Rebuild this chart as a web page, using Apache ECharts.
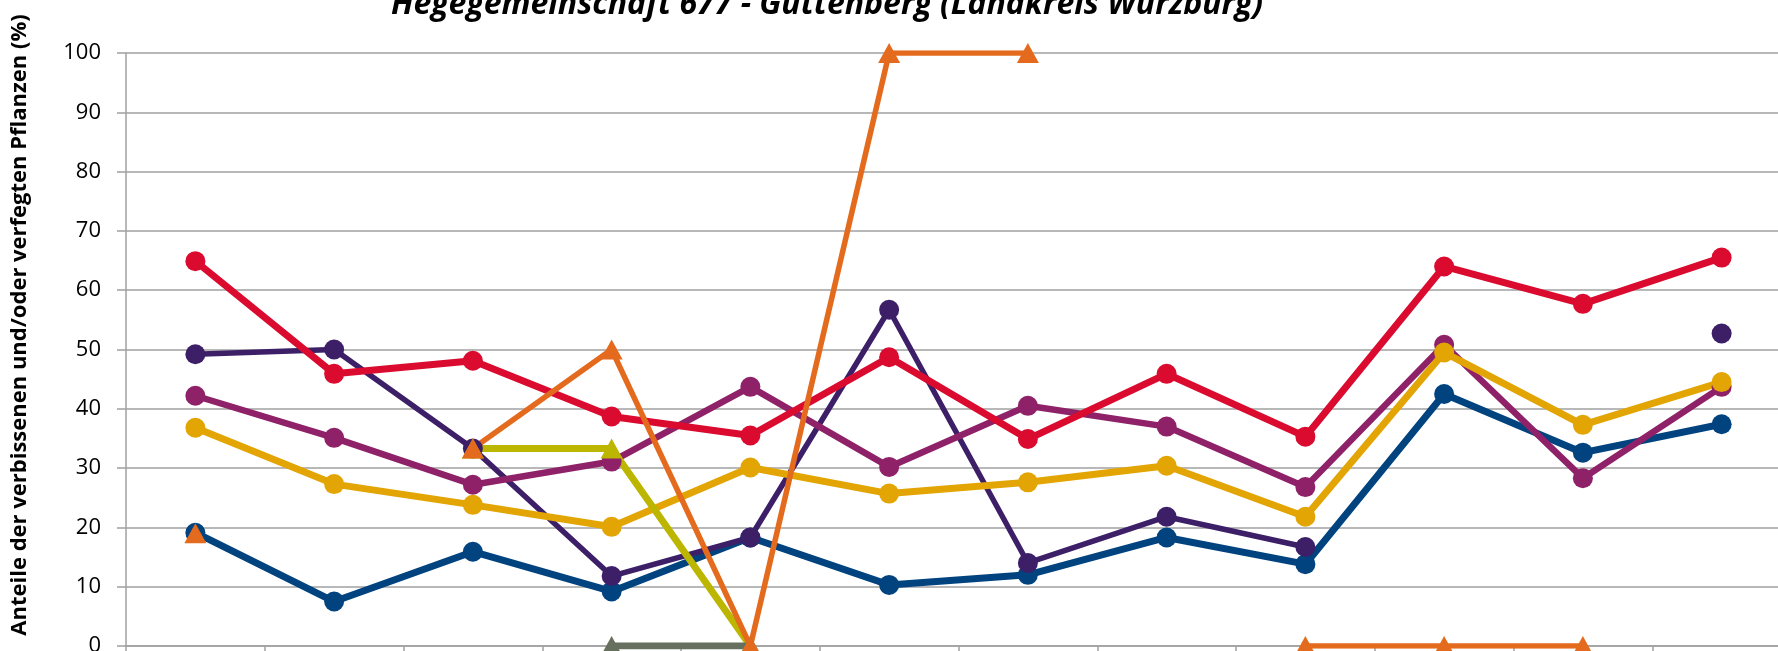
<!DOCTYPE html>
<html>
<head>
<meta charset="utf-8">
<script src="https://cdn.jsdelivr.net/npm/echarts@6/dist/echarts.min.js"></script>
<style>
html,body{margin:0;padding:0;background:#fff;}
#chart{width:1778px;height:651px;}
</style>
</head>
<body>
<div id="chart"></div>
<script>
const categories = ['1991','1994','1997','2000','2003','2006','2009','2012','2015','2018','2021','2024'];
const yTicks = [0,10,20,30,40,50,60,70,80,90,100];
const titleText = 'Hegegemeinschaft 677 - Güttenberg (Landkreis Würzburg)';
const yAxisTitle = 'Anteile der verbissenen und/oder verfegten Pflanzen (%)';

const seriesNames = ['Fichte','Kiefer','Buche','Eiche','Edellaubbäume','Tanne','Sonstiges Nadelholz','Sonstiges Laubholz'];
const fichte      = [19.1, 7.5, 15.9, 9.2, 18.3, 10.3, 12.0, 18.3, 13.8, 42.5, 32.6, 37.4];
const kiefer      = [49.2, 50.0, 33.3, 11.8, 18.3, 56.7, 14.0, 21.8, 16.7, null, null, 52.7];
const buche       = [42.2, 35.1, 27.2, 31.1, 43.7, 30.2, 40.5, 37.0, 26.8, 50.8, 28.3, 43.7];
const eiche       = [36.8, 27.3, 23.8, 20.1, 30.1, 25.7, 27.6, 30.4, 21.8, 49.5, 37.3, 44.5];
const edellaub    = [64.9, 45.9, 48.1, 38.7, 35.5, 48.7, 34.9, 45.9, 35.3, 64.0, 57.7, 65.5];
const sonstNadel  = [null, null, 33.3, 33.3, 0, null, null, null, null, null, null, null];
const sonstLaub   = [null, null, null, 0, 0, null, null, null, null, null, null, null];
const tanne       = [19.0, null, 33.3, 50.0, 0, 100, 100, null, 0, 0, 0, null];

const colors = {
  fichte: '#00437F',
  kiefer: '#3D1F68',
  buche: '#8E2168',
  eiche: '#E2A504',
  edellaub: '#DA0B2F',
  sonstNadel: '#BDB600',
  sonstLaub: '#67705F',
  tanne: '#E46B1E'
};

function circleSeries(name, data, color, width) {
  return {
    name: name, type: 'line', data: data,
    showSymbol: true, showAllSymbol: true,
    symbol: 'circle', symbolSize: 20,
    lineStyle: {color: color, width: width},
    itemStyle: {color: color},
    connectNulls: false, animation: false
  };
}
function triSeries(name, data, color, width) {
  return {
    name: name, type: 'line', data: data,
    showSymbol: true, showAllSymbol: true,
    symbol: 'triangle', symbolSize: [22, 20],
    lineStyle: {color: color, width: width},
    itemStyle: {color: color},
    connectNulls: false, animation: false
  };
}

const chart = echarts.init(document.getElementById('chart'), null, {renderer: 'canvas'});
chart.setOption({
  backgroundColor: '#ffffff',
  animation: false,
  grid: {left: 126, top: 53, width: 1665, height: 593, containLabel: false, outerBoundsMode: 'none'},
  xAxis: {
    type: 'category',
    data: categories,
    boundaryGap: true,
    axisLine: {show: true, lineStyle: {color: '#A0A0A0', width: 1.5}},
    axisTick: {show: true, length: 9, lineStyle: {color: '#A0A0A0', width: 1.5}},
    axisLabel: {show: true, fontFamily: 'Open Sans', fontSize: 22, color: '#000', margin: 14},
    splitLine: {show: false}
  },
  yAxis: {
    type: 'value',
    min: yTicks[0], max: yTicks[yTicks.length - 1], interval: 10,
    axisLine: {show: true, lineStyle: {color: '#A0A0A0', width: 1.5}},
    axisTick: {show: true, length: 9, lineStyle: {color: '#A0A0A0', width: 1.5}},
    axisLabel: {fontFamily: 'Open Sans', fontSize: 22, color: '#000', margin: 25},
    splitLine: {show: true, lineStyle: {color: '#A0A0A0', width: 1.5}}
  },
  graphic: [
    {
      type: 'text', left: 391, top: -11,
      style: {text: titleText, font: 'italic bold 32px "Open Sans"', fill: '#000'}
    },
    {
      type: 'text', x: 20, y: 325, rotation: Math.PI / 2,
      style: {text: yAxisTitle, font: 'bold 22px "Open Sans"', fill: '#000', align: 'center', verticalAlign: 'middle'}
    }
  ],
  series: [
    circleSeries(seriesNames[0], fichte, colors.fichte, 7),
    circleSeries(seriesNames[1], kiefer, colors.kiefer, 5.5),
    circleSeries(seriesNames[2], buche, colors.buche, 6.5),
    circleSeries(seriesNames[3], eiche, colors.eiche, 7),
    circleSeries(seriesNames[4], edellaub, colors.edellaub, 7),
    triSeries(seriesNames[6], sonstNadel, colors.sonstNadel, 7),
    triSeries(seriesNames[7], sonstLaub, colors.sonstLaub, 7),
    triSeries(seriesNames[5], tanne, colors.tanne, 5.5)
  ]
});
</script>
</body>
</html>
